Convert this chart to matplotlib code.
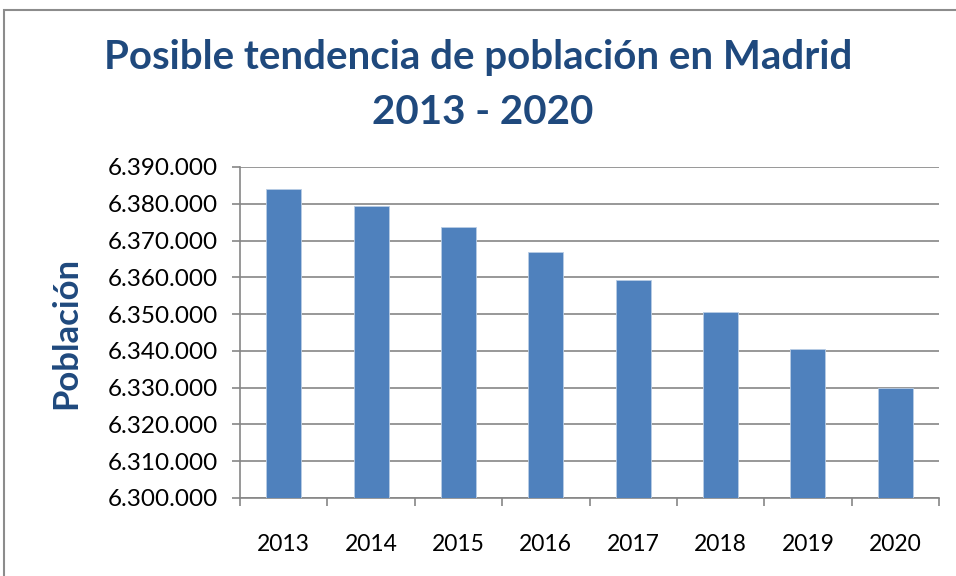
import matplotlib.pyplot as plt
from matplotlib.patches import Rectangle
from matplotlib.ticker import FuncFormatter, MultipleLocator
import numpy as np

# Datos
anios = ["2013", "2014", "2015", "2016", "2017", "2018", "2019", "2020"]
poblacion = [6384000, 6379300, 6373800, 6367000, 6359400, 6350500, 6340600, 6329800]

azul_titulo = "#1F497D"
azul_barra = "#4F81BD"
gris = "#868686"

plt.rcParams['font.family'] = ['Lato', 'DejaVu Sans']

fig = plt.figure(figsize=(9.56, 5.76), dpi=100)
fig.patch.set_facecolor("white")

# Marco gris del gráfico
marco = Rectangle((4 / 956, -0.05), 1.2, 1 - 10 / 576 + 0.05,
                  transform=fig.transFigure, fill=False,
                  edgecolor="#8c8c8c", linewidth=1.5)
fig.patches.append(marco)

ax = fig.add_axes([240 / 956, 1 - 498 / 576, 699 / 956, 331 / 576])

x = np.arange(len(anios))
ax.bar(x, poblacion, width=0.4, color=azul_barra, edgecolor="#b9cde5",
       linewidth=0.6, zorder=3)

ax.set_xlim(-0.5, len(anios) - 0.5)
ax.set_ylim(6300000, 6390000)
ax.yaxis.set_major_locator(MultipleLocator(10000))
ax.yaxis.set_major_formatter(FuncFormatter(lambda v, p: f"{int(v):,}".replace(",", ".")))

ax.set_xticks(x)
ax.set_xticklabels(anios)
ax.set_xticks(np.arange(-0.5, len(anios)), minor=True)
ax.tick_params(axis="x", which="major", length=0, pad=26, labelsize=16.5)
ax.tick_params(axis="x", which="minor", length=6, color=gris, width=1.2)
ax.tick_params(axis="y", length=6, color=gris, width=1.2, labelsize=17.5, pad=10)

ax.grid(axis="y", color=gris, linewidth=1.2, zorder=0)
for lado in ["top", "right"]:
    ax.spines[lado].set_visible(False)
for lado in ["left", "bottom"]:
    ax.spines[lado].set_color(gris)
    ax.spines[lado].set_linewidth(1.2)

fig.text(0.5, 1 - 57 / 576, "Posible tendencia de población en Madrid",
         ha="center", va="center", fontsize=29, fontweight="bold", color=azul_titulo)
fig.text(0.505, 1 - 112 / 576, "2013 - 2020",
         ha="center", va="center", fontsize=29, fontweight="bold", color=azul_titulo)
fig.text(66 / 956, 1 - 333 / 576, "Población", rotation=90,
         ha="center", va="center", fontsize=25, fontweight="bold", color=azul_titulo)

plt.savefig("out.png", dpi=100)
plt.close()
